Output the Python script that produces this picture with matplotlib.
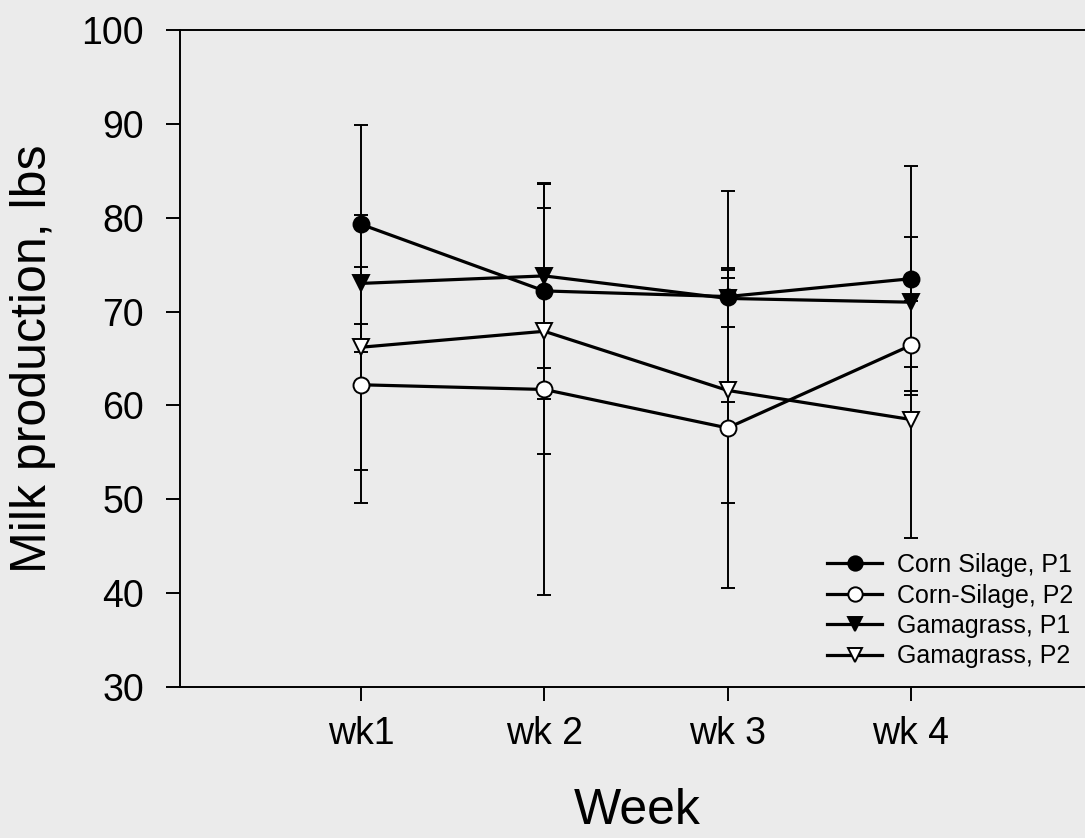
import numpy as np
import matplotlib.pyplot as plt

plt.rcParams['font.family'] = ['Liberation Sans', 'DejaVu Sans']

# data
weeks = [1, 2, 3, 4]
week_labels = ['wk1', 'wk 2', 'wk 3', 'wk 4']

cs_p1 = [79.3, 72.2, 71.6, 73.5]
cs_p1_err = [10.6, 11.5, 11.2, 12.0]
cs_p2 = [62.2, 61.7, 57.6, 66.4]
cs_p2_err = [12.6, 21.9, 17.0, 5.3]
gg_p1 = [73.0, 73.8, 71.4, 71.0]
gg_p1_err = [7.3, 9.8, 3.0, 6.9]
gg_p2 = [66.2, 67.9, 61.6, 58.5]
gg_p2_err = [13.1, 13.1, 12.0, 12.6]

names = ['Corn Silage, P1', 'Corn-Silage, P2', 'Gamagrass, P1', 'Gamagrass, P2']
bg = '#ebebeb'

fig = plt.figure(figsize=(10.85, 8.38), dpi=100, facecolor=bg)
ax = fig.add_axes([180/1085, 151/838, 905/1085, 657/838])
ax.set_facecolor(bg)

series = [
    (cs_p1, cs_p1_err, 'o', 'black'),
    (cs_p2, cs_p2_err, 'o', 'white'),
    (gg_p1, gg_p1_err, 'v', 'black'),
    (gg_p2, gg_p2_err, 'v', 'white'),
]

for (y, e, m, fc), name in zip(series, names):
    # error bars under the markers
    ax.errorbar(weeks, y, yerr=e, fmt='none', ecolor='black', elinewidth=1.4,
                capsize=4.7, capthick=1.4, zorder=2)
    ax.plot(weeks, y, color='black', lw=2.3, marker=m, markersize=11.5,
            markerfacecolor=fc, markeredgecolor='black', markeredgewidth=1.4,
            label=name, zorder=3)

ax.set_xlim(0.0125, 4.95)
ax.set_ylim(30, 100)
ax.set_xticks(weeks)
ax.set_xticklabels(week_labels)
ax.set_yticks(np.arange(30, 101, 10))

ax.spines['right'].set_visible(False)
for s in ['left', 'bottom', 'top']:
    ax.spines[s].set_linewidth(1.4)
ax.tick_params(axis='both', direction='out', length=10, width=1.4, labelsize=27)
ax.tick_params(axis='y', pad=16)
ax.tick_params(axis='x', pad=11)

ax.set_ylabel('Milk production, lbs', fontsize=36)
ax.yaxis.set_label_coords(-0.137, 0.5)
ax.set_xlabel('Week', fontsize=36, va='baseline')
ax.xaxis.set_label_coords(0.505, -0.2085)

leg = ax.legend(loc='upper left', bbox_to_anchor=(827/1085, 1 - 553/838),
                bbox_transform=fig.transFigure, frameon=False, fontsize=18,
                handlelength=2.2, handletextpad=0.6, labelspacing=0.26,
                borderpad=0, borderaxespad=0, markerscale=0.9)

fig.savefig('out.png', dpi=100, facecolor=bg)
